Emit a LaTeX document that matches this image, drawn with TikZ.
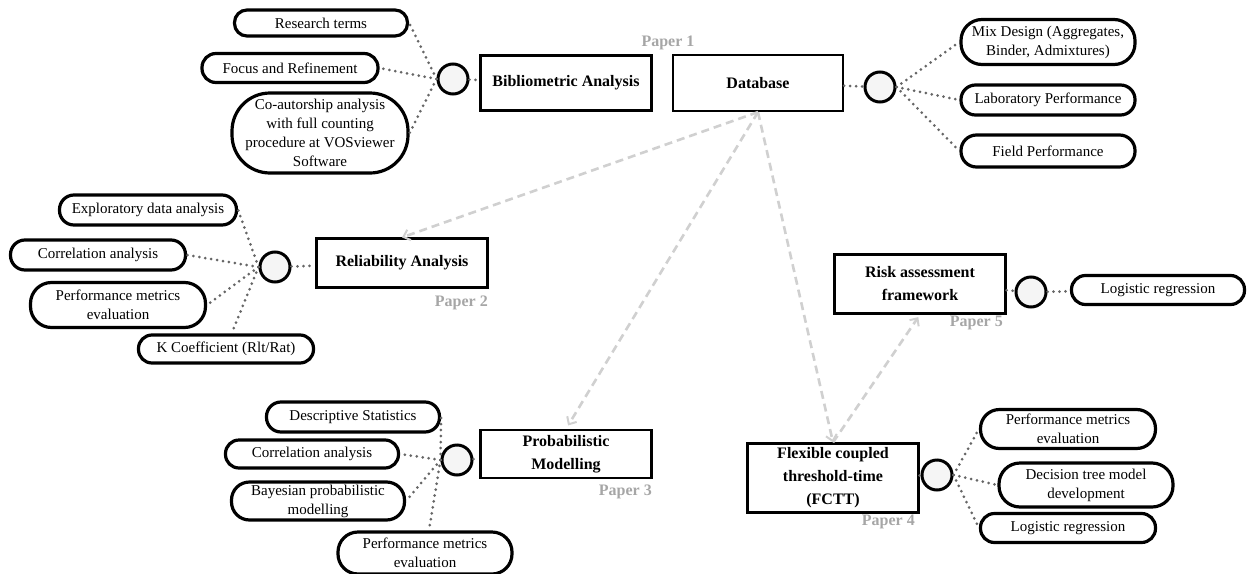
\documentclass[tikz,border=0pt]{standalone}
\usepackage{fontspec}
\setmainfont{Liberation Serif}
\usetikzlibrary{arrows.meta}

\definecolor{dotgray}{HTML}{666666}
\definecolor{dashgray}{HTML}{D0D0D0}
\definecolor{papergray}{HTML}{A6A6A6}
\definecolor{hubfill}{HTML}{F5F5F5}

\begin{document}
\begin{tikzpicture}[x=1pt,y=-1pt,
  pill/.style={draw, line width=3.2pt, fill=white, align=center, inner sep=0pt,
    font=\fontsize{15}{19}\selectfont},
  task/.style={draw, line width=2.2pt, fill=white, align=center, inner sep=0pt,
    minimum width=171pt, font=\fontsize{16}{23}\selectfont\bfseries},
  hub/.style={circle, draw, line width=3pt, fill=hubfill, minimum size=30pt, inner sep=0pt},
  link/.style={dotgray, line width=3pt, line cap=round, dash pattern=on 0pt off 6pt},
  flow/.style={dashgray, line width=2.6pt, dash pattern=on 8pt off 5pt,
    -{Straight Barb[length=6pt,width=11pt,line width=2pt]}},
  paper/.style={papergray, font=\fontsize{16}{18}\selectfont\bfseries, inner sep=0pt}
]
\useasboundingbox (0,0) rectangle (1247,573);

% ---- Paper 1: bibliometric analysis ----
\node[pill, minimum width=173pt, minimum height=26pt, rounded corners=12.5pt] (rt) at (321,23) {Research terms};
\node[pill, minimum width=176pt, minimum height=29pt, rounded corners=14pt] (fr) at (290,68) {Focus and Refinement};
\node[pill, minimum width=176pt, minimum height=80pt, rounded corners=38pt] (co) at (320,133)
  {Co-autorship analysis\\with full counting\\procedure at VOSviewer\\Software};
\node[hub] (h1) at (453,79) {};
\node[task, minimum height=55pt] (ba) at (566,83) {Bibliometric Analysis};

% ---- Paper 1: database ----
\node[task, minimum width=170pt, minimum height=56pt] (db) at (758,83) {Database};
\node[hub] (h2) at (880,87) {};
\node[pill, minimum width=174pt, minimum height=45pt, rounded corners=21pt] (mix) at (1048,42)
  {Mix Design (Aggregates,\\Binder, Admixtures)};
\node[pill, minimum width=174pt, minimum height=30pt, rounded corners=14.5pt] (lab) at (1048,100) {Laboratory Performance};
\node[pill, minimum width=174pt, minimum height=32pt, rounded corners=15.5pt] (fld) at (1048,151) {Field Performance};
\node[paper] (p1) at (668,43) {Paper 1};

% ---- Paper 2: reliability analysis ----
\node[pill, minimum width=177pt, minimum height=30pt, rounded corners=14.5pt] (eda) at (148,210) {Exploratory data analysis};
\node[pill, minimum width=175pt, minimum height=30pt, rounded corners=14.5pt] (ca1) at (98,255) {Correlation analysis};
\node[pill, minimum width=175pt, minimum height=45pt, rounded corners=21pt] (pme1) at (118,305) {Performance metrics\\evaluation};
\node[pill, minimum width=175pt, minimum height=28pt, rounded corners=13.5pt] (kc) at (226,349) {K Coefficient (Rlt/Rat)};
\node[hub] (h3) at (275,267) {};
\node[task, minimum height=49pt] (ra) at (402,263) {Reliability Analysis};
\node[paper, anchor=east] (p2) at (488,303) {Paper 2};

% ---- Paper 3: probabilistic modelling ----
\node[pill, minimum width=173pt, minimum height=30pt, rounded corners=14.5pt] (ds) at (353,417) {Descriptive Statistics};
\node[pill, minimum width=173pt, minimum height=28pt, rounded corners=13.5pt] (ca2) at (312,454) {Correlation analysis};
\node[pill, minimum width=173pt, minimum height=38pt, rounded corners=18pt] (bpm) at (318,501) {Bayesian probabilistic\\modelling};
\node[pill, minimum width=174pt, minimum height=42pt, rounded corners=20pt] (pme2) at (425,553) {Performance metrics\\evaluation};
\node[hub] (h4) at (457,460) {};
\node[task, minimum height=48pt] (pmod) at (566,454) {Probabilistic\\Modelling};
\node[paper, anchor=east] (p3) at (652,492) {Paper 3};

% ---- Paper 5: risk assessment ----
\node[task, minimum height=59pt] (raf) at (920,284) {Risk assessment\\framework};
\node[hub] (h5) at (1031,292) {};
\node[pill, minimum width=173pt, minimum height=29pt, rounded corners=14pt] (lr1) at (1158,290) {Logistic regression};
\node[paper, anchor=east] (p5) at (1003,323) {Paper 5};

% ---- Paper 4: FCTT ----
\node[task, minimum height=69pt] (fctt) at (833,478) {Flexible coupled\\threshold-time\\(FCTT)};
\node[hub] (h6) at (937,475) {};
\node[pill, minimum width=175pt, minimum height=39pt, rounded corners=19pt] (pme3) at (1068,429) {Performance metrics\\evaluation};
\node[pill, minimum width=174pt, minimum height=44pt, rounded corners=21pt] (dt) at (1086,485) {Decision tree model\\development};
\node[pill, minimum width=175pt, minimum height=29pt, rounded corners=14pt] (lr2) at (1068,528) {Logistic regression};
\node[paper, anchor=east] (p4) at (915,522) {Paper 4};

% ---- dotted links from hubs ----
\draw[link] (h1) -- (ba);
\draw[link] (h1.west) -- (rt.east);
\draw[link] (h1.west) -- (fr.east);
\draw[link] (h1.west) -- (co.east);

\draw[link] (db) -- (h2);
\draw[link] (h2.east) -- (mix.west);
\draw[link] (h2.east) -- (lab.west);
\draw[link] (h2.east) -- (fld.west);

\draw[link] (h3) -- (ra);
\draw[link] (h3.west) -- (eda.east);
\draw[link] (h3.west) -- (ca1.east);
\draw[link] (h3.west) -- (pme1.east);
\draw[link] (h3.west) -- (kc.70);

\draw[link] (h4) -- (pmod);
\draw[link] (h4.west) -- (ds.east);
\draw[link] (h4.west) -- (ca2.east);
\draw[link] (h4.west) -- (bpm.east);
\draw[link] (h4.west) -- (pme2.80);

\draw[link] (raf) -- (h5);
\draw[link] (h5) -- (lr1);

\draw[link] (fctt) -- (h6);
\draw[link] (h6.east) -- (pme3.west);
\draw[link] (h6.east) -- (dt.west);
\draw[link] (h6.east) -- (lr2.west);

% ---- dashed flow between papers ----
\draw[flow] (db.south) -- (ra.north);
\draw[flow, shorten >=4pt] (db.south) -- (pmod.north);
\draw[flow] (db.south) -- (fctt.north);
\draw[flow, shorten >=3pt] (fctt.north) -- (raf.south);
\end{tikzpicture}
\end{document}
